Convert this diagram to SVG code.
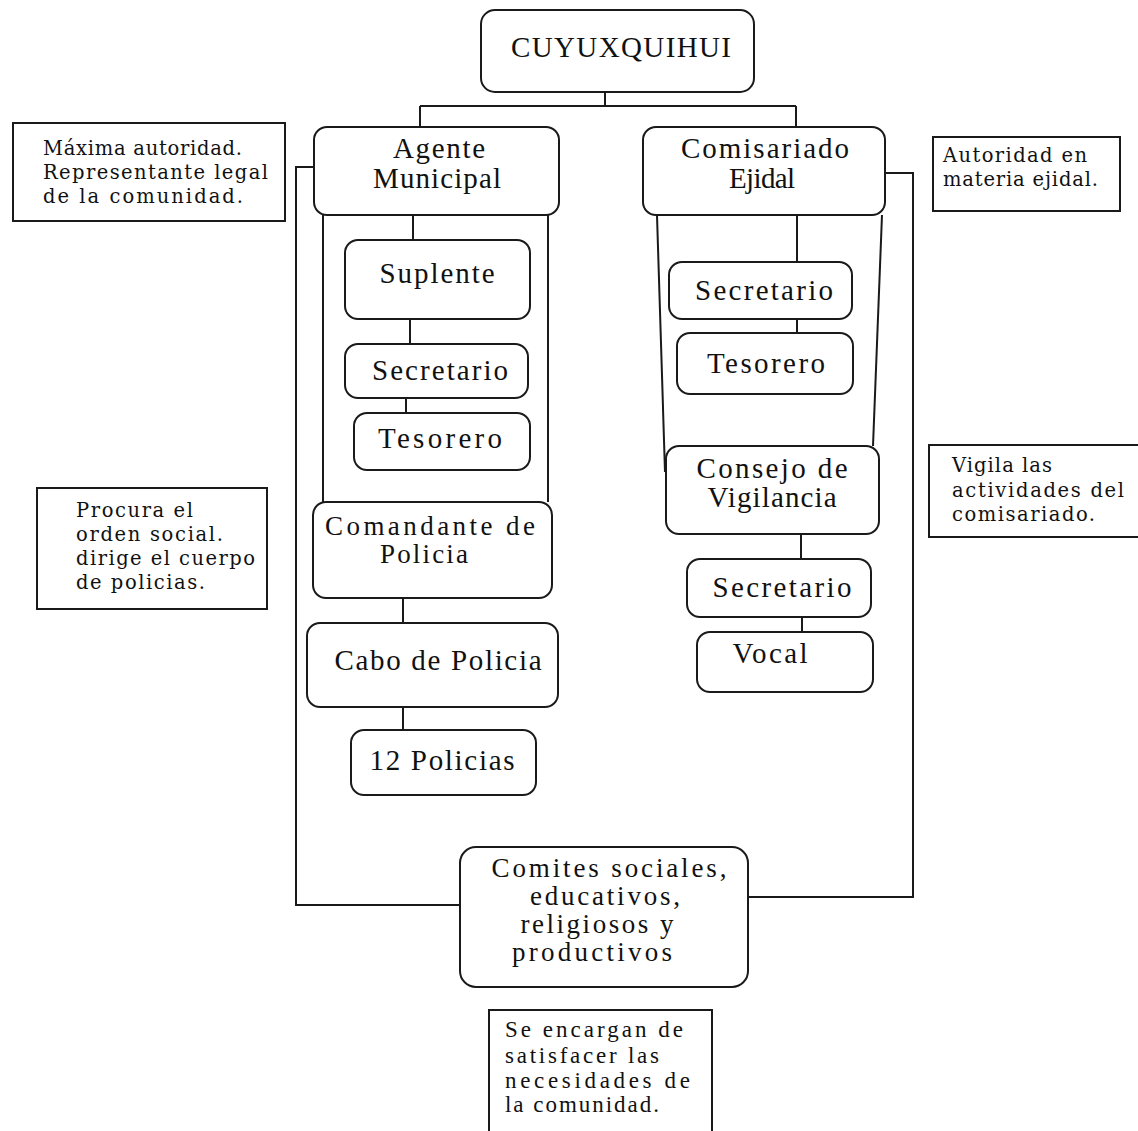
<svg xmlns="http://www.w3.org/2000/svg" width="1138" height="1131" viewBox="0 0 1138 1131">
<style>
.node rect{fill:#fff;stroke:#1a1a1a;stroke-width:2}
.note rect{fill:#fff;stroke:#1a1a1a;stroke-width:2}
.t{font-family:"Liberation Serif","DejaVu Serif",serif;font-size:29px;fill:#111;text-anchor:middle}
.t2{font-size:27px}
.n{font-family:"DejaVu Serif","Liberation Serif",serif;font-size:19.5px;fill:#111}
.b{font-family:"Liberation Serif","DejaVu Serif",serif;font-size:23px;fill:#111}
#connectors line,#connectors polyline{stroke:#1a1a1a;stroke-width:2;fill:none}
</style>
<rect width="1138" height="1131" fill="#fff"/>

<g id="top" class="node"><rect x="481" y="10" width="273" height="82" rx="14"/><text class="t" x="621" y="57" font-size="32" textLength="220">CUYUXQUIHUI</text></g>

<g id="agente" class="node"><rect x="314" y="127" width="245" height="88" rx="13"/><text class="t" x="439" y="158" textLength="92">Agente</text><text class="t" x="437" y="188" textLength="128">Municipal</text></g>
<g id="comisariado" class="node"><rect x="643" y="127" width="242" height="88" rx="13"/><text class="t" x="765" y="158" textLength="168">Comisariado</text><text class="t" x="762" y="188" textLength="66">Ejidal</text></g>

<g id="suplente" class="node"><rect x="345" y="240" width="185" height="79" rx="13"/><text class="t" x="437" y="283" textLength="115">Suplente</text></g>
<g id="secretario-am" class="node"><rect x="345" y="344" width="183" height="54" rx="13"/><text class="t" x="440" y="380" textLength="136">Secretario</text></g>
<g id="tesorero-am" class="node"><rect x="354" y="413" width="176" height="57" rx="13"/><text class="t" x="440" y="448" textLength="124">Tesorero</text></g>
<g id="comandante" class="node"><rect x="313" y="502" width="239" height="96" rx="13"/><text class="t t2" x="430" y="535" textLength="210">Comandante de</text><text class="t t2" x="424" y="563" textLength="88">Policia</text></g>
<g id="cabo" class="node"><rect x="307" y="623" width="251" height="84" rx="13"/><text class="t" x="438" y="670" textLength="207">Cabo de Policia</text></g>
<g id="policias" class="node"><rect x="351" y="730" width="185" height="65" rx="13"/><text class="t" x="442" y="770" textLength="145">12 Policias</text></g>

<g id="secretario-ce" class="node"><rect x="669" y="262" width="183" height="57" rx="13"/><text class="t" x="764" y="300" textLength="138">Secretario</text></g>
<g id="tesorero-ce" class="node"><rect x="677" y="333" width="176" height="61" rx="13"/><text class="t" x="766" y="373" textLength="118">Tesorero</text></g>
<g id="consejo" class="node"><rect x="666" y="446" width="213" height="88" rx="13"/><text class="t" x="772" y="478" textLength="151">Consejo de</text><text class="t" x="772" y="507" textLength="129">Vigilancia</text></g>
<g id="secretario-cv" class="node"><rect x="687" y="559" width="184" height="58" rx="13"/><text class="t" x="782" y="597" textLength="139">Secretario</text></g>
<g id="vocal" class="node"><rect x="697" y="632" width="176" height="60" rx="13"/><text class="t" x="770" y="663" textLength="75">Vocal</text></g>

<g id="comites" class="node"><rect x="460" y="847" width="288" height="140" rx="16"/><text class="t t2" x="609" y="877" textLength="235">Comites sociales,</text><text class="t t2" x="605" y="905" textLength="150">educativos,</text><text class="t t2" x="597" y="933" textLength="153">religiosos y</text><text class="t t2" x="592" y="961" textLength="160">productivos</text></g>

<g id="note-agente" class="note"><rect x="13" y="123" width="272" height="98"/><text class="n" x="43" y="155" textLength="199">Máxima autoridad.</text><text class="n" x="43" y="179" textLength="225">Representante legal</text><text class="n" x="43" y="203" textLength="200">de la comunidad.</text></g>
<g id="note-comisariado" class="note"><rect x="933" y="137" width="187" height="74"/><text class="n" x="943" y="162" textLength="144">Autoridad en</text><text class="n" x="943" y="186" textLength="155">materia ejidal.</text></g>
<g id="note-comandante" class="note"><rect x="37" y="488" width="230" height="121"/><text class="n" x="76" y="517" textLength="117">Procura el</text><text class="n" x="76" y="541" textLength="147">orden social.</text><text class="n" x="76" y="565" textLength="179">dirige el cuerpo</text><text class="n" x="76" y="589" textLength="129">de policias.</text></g>
<g id="note-consejo" class="note"><rect x="929" y="445" width="220" height="92"/><text class="n" x="952" y="472" textLength="100">Vigila las</text><text class="n" x="952" y="497" textLength="172">actividades del</text><text class="n" x="952" y="521" textLength="143">comisariado.</text></g>
<g id="note-comites" class="note"><rect x="489" y="1010" width="223" height="140"/><text class="b" x="505" y="1037" textLength="178">Se encargan de</text><text class="b" x="505" y="1063" textLength="154">satisfacer las</text><text class="b" x="505" y="1088" textLength="185">necesidades de</text><text class="b" x="505" y="1112" textLength="154">la comunidad.</text></g>

<g id="connectors">
<line x1="605" y1="92" x2="605" y2="106"/>
<line x1="420" y1="106" x2="796" y2="106"/>
<line x1="420" y1="106" x2="420" y2="127"/>
<line x1="796" y1="106" x2="796" y2="127"/>
<polyline points="314,167 296,167 296,905 460,905"/>
<polyline points="885,173 913,173 913,897 748,897"/>
<line x1="413" y1="215" x2="413" y2="240"/>
<line x1="323" y1="215" x2="323" y2="502"/>
<line x1="548" y1="215" x2="548" y2="502"/>
<line x1="410" y1="319" x2="410" y2="344"/>
<line x1="406" y1="398" x2="406" y2="413"/>
<line x1="403" y1="598" x2="403" y2="623"/>
<line x1="403" y1="707" x2="403" y2="730"/>
<line x1="797" y1="215" x2="797" y2="262"/>
<line x1="657" y1="215" x2="665" y2="472"/>
<line x1="882" y1="215" x2="873" y2="446"/>
<line x1="797" y1="319" x2="797" y2="333"/>
<line x1="801" y1="534" x2="801" y2="559"/>
<line x1="802" y1="617" x2="802" y2="632"/>
</g>
</svg>
